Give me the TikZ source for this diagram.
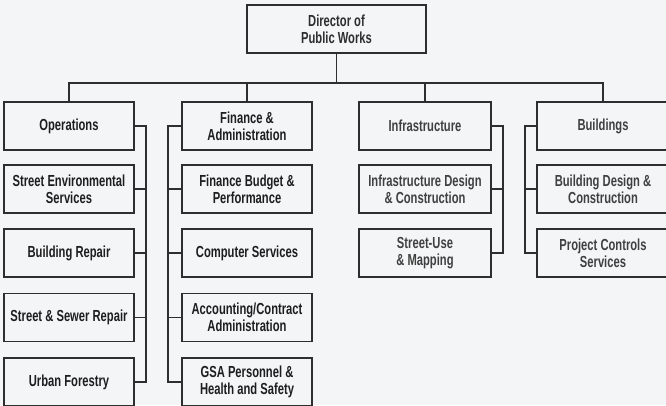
\documentclass[tikz,border=0pt]{standalone}
\usepackage{fontspec}
\setmainfont[FakeStretch=0.70]{Liberation Sans}
\definecolor{bg}{HTML}{F4F5F7}
\definecolor{ln}{HTML}{2E2E2E}
\definecolor{txA}{HTML}{1E1E1E}
\definecolor{txB}{HTML}{404040}
\begin{document}
\begin{tikzpicture}[x=1pt,y=-1pt,
  orgbox/.style={draw=ln,line width=1.3pt,minimum width=130pt,minimum height=48pt,
    align=center,inner sep=0pt,font=\fontsize{16}{17}\selectfont\bfseries,text=txA},
  grayt/.style={text=txB},
  conn/.style={draw=ln,line width=1.3pt}]
\fill[bg] (0,0) rectangle (666,405);
\clip (0,0) rectangle (666,405);
\useasboundingbox (0,0) rectangle (666,405);
% director
\node[orgbox,minimum width=179pt,text=ln] (dir) at (336.5,29) {Director of\\Public Works};
% column 1
\node[orgbox] (ops) at (69,126) {Operations};
\node[orgbox] (sev) at (69,189) {Street Environmental\\Services};
\node[orgbox] (brp) at (69,253) {Building Repair};
\node[orgbox] (ssr) at (69,317.5) {Street \& Sewer Repair};
\node[orgbox] (urb) at (69,382) {Urban Forestry};
% column 2
\node[orgbox] (fin) at (247,126) {Finance \&\\Administration};
\node[orgbox] (fbp) at (247,189) {Finance Budget \&\\Performance};
\node[orgbox] (cmp) at (247,253) {Computer Services};
\node[orgbox] (acc) at (247,317.5) {Accounting/Contract\\Administration};
\node[orgbox] (gsa) at (247,382) {GSA Personnel \&\\Health and Safety};
% column 3
\node[orgbox,minimum width=132pt,grayt] (inf) at (425,126) {Infrastructure};
\node[orgbox,minimum width=132pt,grayt] (idc) at (425,189) {Infrastructure Design\\\& Construction};
\node[orgbox,minimum width=132pt,grayt] (sum) at (425,253) {Street-Use\\\& Mapping};
% column 4
\node[orgbox,minimum width=132pt,grayt] (bld) at (603,126) {Buildings};
\node[orgbox,minimum width=132pt,grayt] (bdc) at (603,189) {Building Design \&\\Construction};
\node[orgbox,minimum width=132pt,grayt] (pcs) at (603,253) {Project Controls\\Services};
% bus coordinates
\coordinate (top) at (0,83);
\coordinate (b1) at (146,0);
\coordinate (b2) at (168,0);
\coordinate (b3) at (503,0);
\coordinate (b4) at (525,0);
% top tree
\draw[conn] (dir.south) -- (dir.south |- top);
\draw[conn] (ops.north) -- (ops.north |- top) -- (bld.north |- top) -- (bld.north);
\draw[conn] (fin.north) -- (fin.north |- top);
\draw[conn] (inf.north) -- (inf.north |- top);
% column 1
\draw[conn] (ops.east) -- (ops.east -| b1) -- (urb.east -| b1) -- (urb.east);
\draw[conn] (sev.east) -- (sev.east -| b1);
\draw[conn] (brp.east) -- (brp.east -| b1);
\draw[conn] (ssr.east) -- (ssr.east -| b1);
% column 2
\draw[conn] (fin.west) -- (fin.west -| b2) -- (gsa.west -| b2) -- (gsa.west);
\draw[conn] (fbp.west) -- (fbp.west -| b2);
\draw[conn] (cmp.west) -- (cmp.west -| b2);
\draw[conn] (acc.west) -- (acc.west -| b2);
% column 3
\draw[conn] (inf.east) -- (inf.east -| b3) -- (sum.east -| b3) -- (sum.east);
\draw[conn] (idc.east) -- (idc.east -| b3);
% column 4
\draw[conn] (bld.west) -- (bld.west -| b4) -- (pcs.west -| b4) -- (pcs.west);
\draw[conn] (bdc.west) -- (bdc.west -| b4);
\end{tikzpicture}
\end{document}
